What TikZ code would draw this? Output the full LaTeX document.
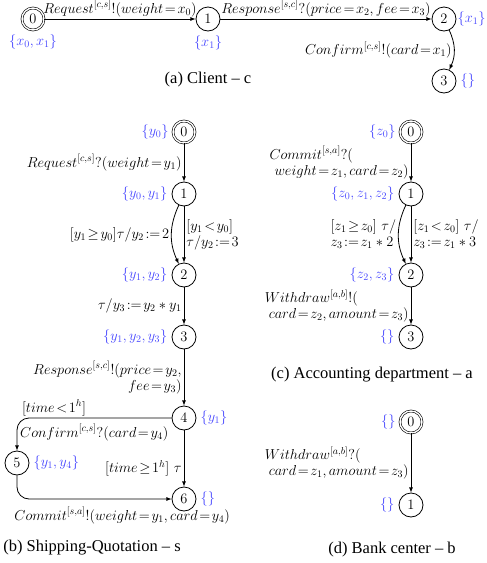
\documentclass[tikz,border=0pt]{standalone}
\usepackage{fontspec}
\newfontfamily\capfont[Ligatures=TeX]{Liberation Serif}
\definecolor{setblue}{RGB}{70,70,255}

\begin{document}
\begin{tikzpicture}[>=latex,line join=bevel,x=1pt,y=-1pt,
  state/.style={circle,draw,line width=0.8pt,minimum size=24pt,inner sep=0pt,font=\fontsize{14}{16}\selectfont},
  init/.style={state,double,line width=0.6pt,double distance=1.4pt,minimum size=22pt},
  setlbl/.style={text=setblue,font=\fontsize{14.2}{16}\selectfont,inner sep=2pt},
  lbl/.style={font=\fontsize{13.7}{16}\selectfont,inner sep=2pt},
  conn/.style={->,line width=0.8pt},
  captxt/.style={font=\capfont\fontsize{16.5}{19}\selectfont},
  label distance=2pt]
\useasboundingbox (0,0) rectangle (487,563);
%% (a) Client
% Node: c0
\node[init,label={[setlbl]below:{$\{x_0,x_1\}$}}] (c0) at (33,19) {$0$};
% Node: c1
\node[state,label={[setlbl]below:{$\{x_1\}$}}] (c1) at (208,19) {$1$};
% Node: c2
\node[state,label={[setlbl,label distance=0pt,inner sep=1pt]right:{$\{x_1\}$}}] (c2) at (444,19) {$2$};
% Node: c3
\node[state,label={[setlbl]right:{$\{\}$}}] (c3) at (444,81) {$3$};
% Edge: c0 -> c1
\draw[conn] (c0) -- node[lbl,above] {$Request^{[c,s]}!(weight\!=\!x_0)$} (c1);
% Edge: c1 -> c2
\draw[conn] (c1) -- node[lbl,above] {$Response^{[s,c]}?(price\!=\!x_2, fee\!=\!x_3)$} (c2);
% Edge: c2 -> c3
\draw[conn] (c2) to[bend left=25] node[lbl,left] {$Confirm^{[c,s]}!(card\!=\!x_1)$} (c3);
\node[captxt] (capa) at (208,80) {(a) Client -- c};
%% (b) Shipping-Quotation
% Node: b0
\node[init,label={[setlbl]left:{$\{y_0\}$}}] (b0) at (184,132) {$0$};
% Node: b1
\node[state,label={[setlbl]left:{$\{y_0,y_1\}$}}] (b1) at (184,194) {$1$};
% Node: b2
\node[state,label={[setlbl]left:{$\{y_1,y_2\}$}}] (b2) at (184,275) {$2$};
% Node: b3
\node[state,label={[setlbl]left:{$\{y_1,y_2,y_3\}$}}] (b3) at (184,337) {$3$};
% Node: b4
\node[state,label={[setlbl]right:{$\{y_1\}$}}] (b4) at (184,418) {$4$};
% Node: b5
\node[state,label={[setlbl]right:{$\{y_1,y_4\}$}}] (b5) at (17,463) {$5$};
% Node: b6
\node[state,label={[setlbl]right:{$\{\}$}}] (b6) at (184,499) {$6$};
% Edge: b0 -> b1
\draw[conn] (b0) -- node[lbl,left] {$Request^{[c,s]}?(weight\!=\!y_1)$} (b1);
% Edge: b1 -> b2
\draw[conn] (b1) to[bend right=25] node[lbl,left] {$[y_1\!\geq\!y_0]\tau/y_2\!:=\!2$} (b2);
\draw[conn] (b1) -- node[lbl,right,align=left] {$[y_1\!<\!y_0]$\\$\tau/y_2\!:=\!3$} (b2);
% Edge: b2 -> b3
\draw[conn] (b2) -- node[lbl,left] {$\tau/y_3\!:=\!y_2*y_1$} (b3);
% Edge: b3 -> b4
\draw[conn] (b3) -- node[lbl,left,align=right] {$Response^{[s,c]}!(price\!=\!y_2,$\\$fee\!=\!y_3)$} (b4);
% Edge: b4 -> b5
\draw[conn,rounded corners=12pt] (b4) -| node[lbl,pos=.38,above] {$[time\!<\!1^h]$}
  node[lbl,pos=.25,below,yshift=-4pt] {$Confirm^{[c,s]}?(card\!=\!y_4)$} (b5);
% Edge: b4 -> b6
\draw[conn] (b4) -- node[lbl,pos=.68,left] {$[time\!\geq\!1^h]\ \tau$} (b6);
% Edge: b5 -> b6
\draw[conn,rounded corners=12pt] (b5) |- node[lbl,pos=.84,below,yshift=-6pt] {$Commit^{[s,a]}!(weight\!=\!y_1, card\!=\!y_4)$} (b6);
\node[captxt] (capb) at (92,548) {(b) Shipping-Quotation -- s};
%% (c) Accounting department
% Node: a0
\node[init,label={[setlbl]left:{$\{z_0\}$}}] (a0) at (411,132) {$0$};
% Node: a1
\node[state,label={[setlbl]left:{$\{z_0,z_1,z_2\}$}}] (a1) at (411,194) {$1$};
% Node: a2
\node[state,label={[setlbl]left:{$\{z_2,z_3\}$}}] (a2) at (411,275) {$2$};
% Node: a3
\node[state,label={[setlbl]left:{$\{\}$}}] (a3) at (411,337) {$3$};
% Edge: a0 -> a1
\draw[conn] (a0) -- node[lbl,left,align=left] {$Commit^{[s,a]}?($\\\hspace*{5pt}$weight\!=\!z_1, card\!=\!z_2)$} (a1);
% Edge: a1 -> a2
\draw[conn] (a1) to[bend right=25] node[lbl,left,align=left] {$[z_1\!\geq\!z_0]\ \tau/$\\$z_3\!:=\!z_1*2$} (a2);
\draw[conn] (a1) -- node[lbl,right,align=left] {$[z_1\!<\!z_0]\ \tau/$\\$z_3\!:=\!z_1*3$} (a2);
% Edge: a2 -> a3
\draw[conn] (a2) -- node[lbl,left,align=left] {$Withdraw^{[a,b]}!($\\\hspace*{4pt}$card\!=\!z_2, amount\!=\!z_3)$} (a3);
\node[captxt] (capc) at (372,375) {(c) Accounting department -- a};
%% (d) Bank center
% Node: k0
\node[init,label={[setlbl]left:{$\{\}$}}] (k0) at (411,422) {$0$};
% Node: k1
\node[state,label={[setlbl]left:{$\{\}$}}] (k1) at (411,505) {$1$};
% Edge: k0 -> k1
\draw[conn] (k0) -- node[lbl,left,align=left] {$Withdraw^{[a,b]}?($\\\hspace*{4pt}$card\!=\!z_1, amount\!=\!z_3)$} (k1);
\node[captxt] (capd) at (392,550) {(d) Bank center -- b};
%
\end{tikzpicture}
\end{document}
